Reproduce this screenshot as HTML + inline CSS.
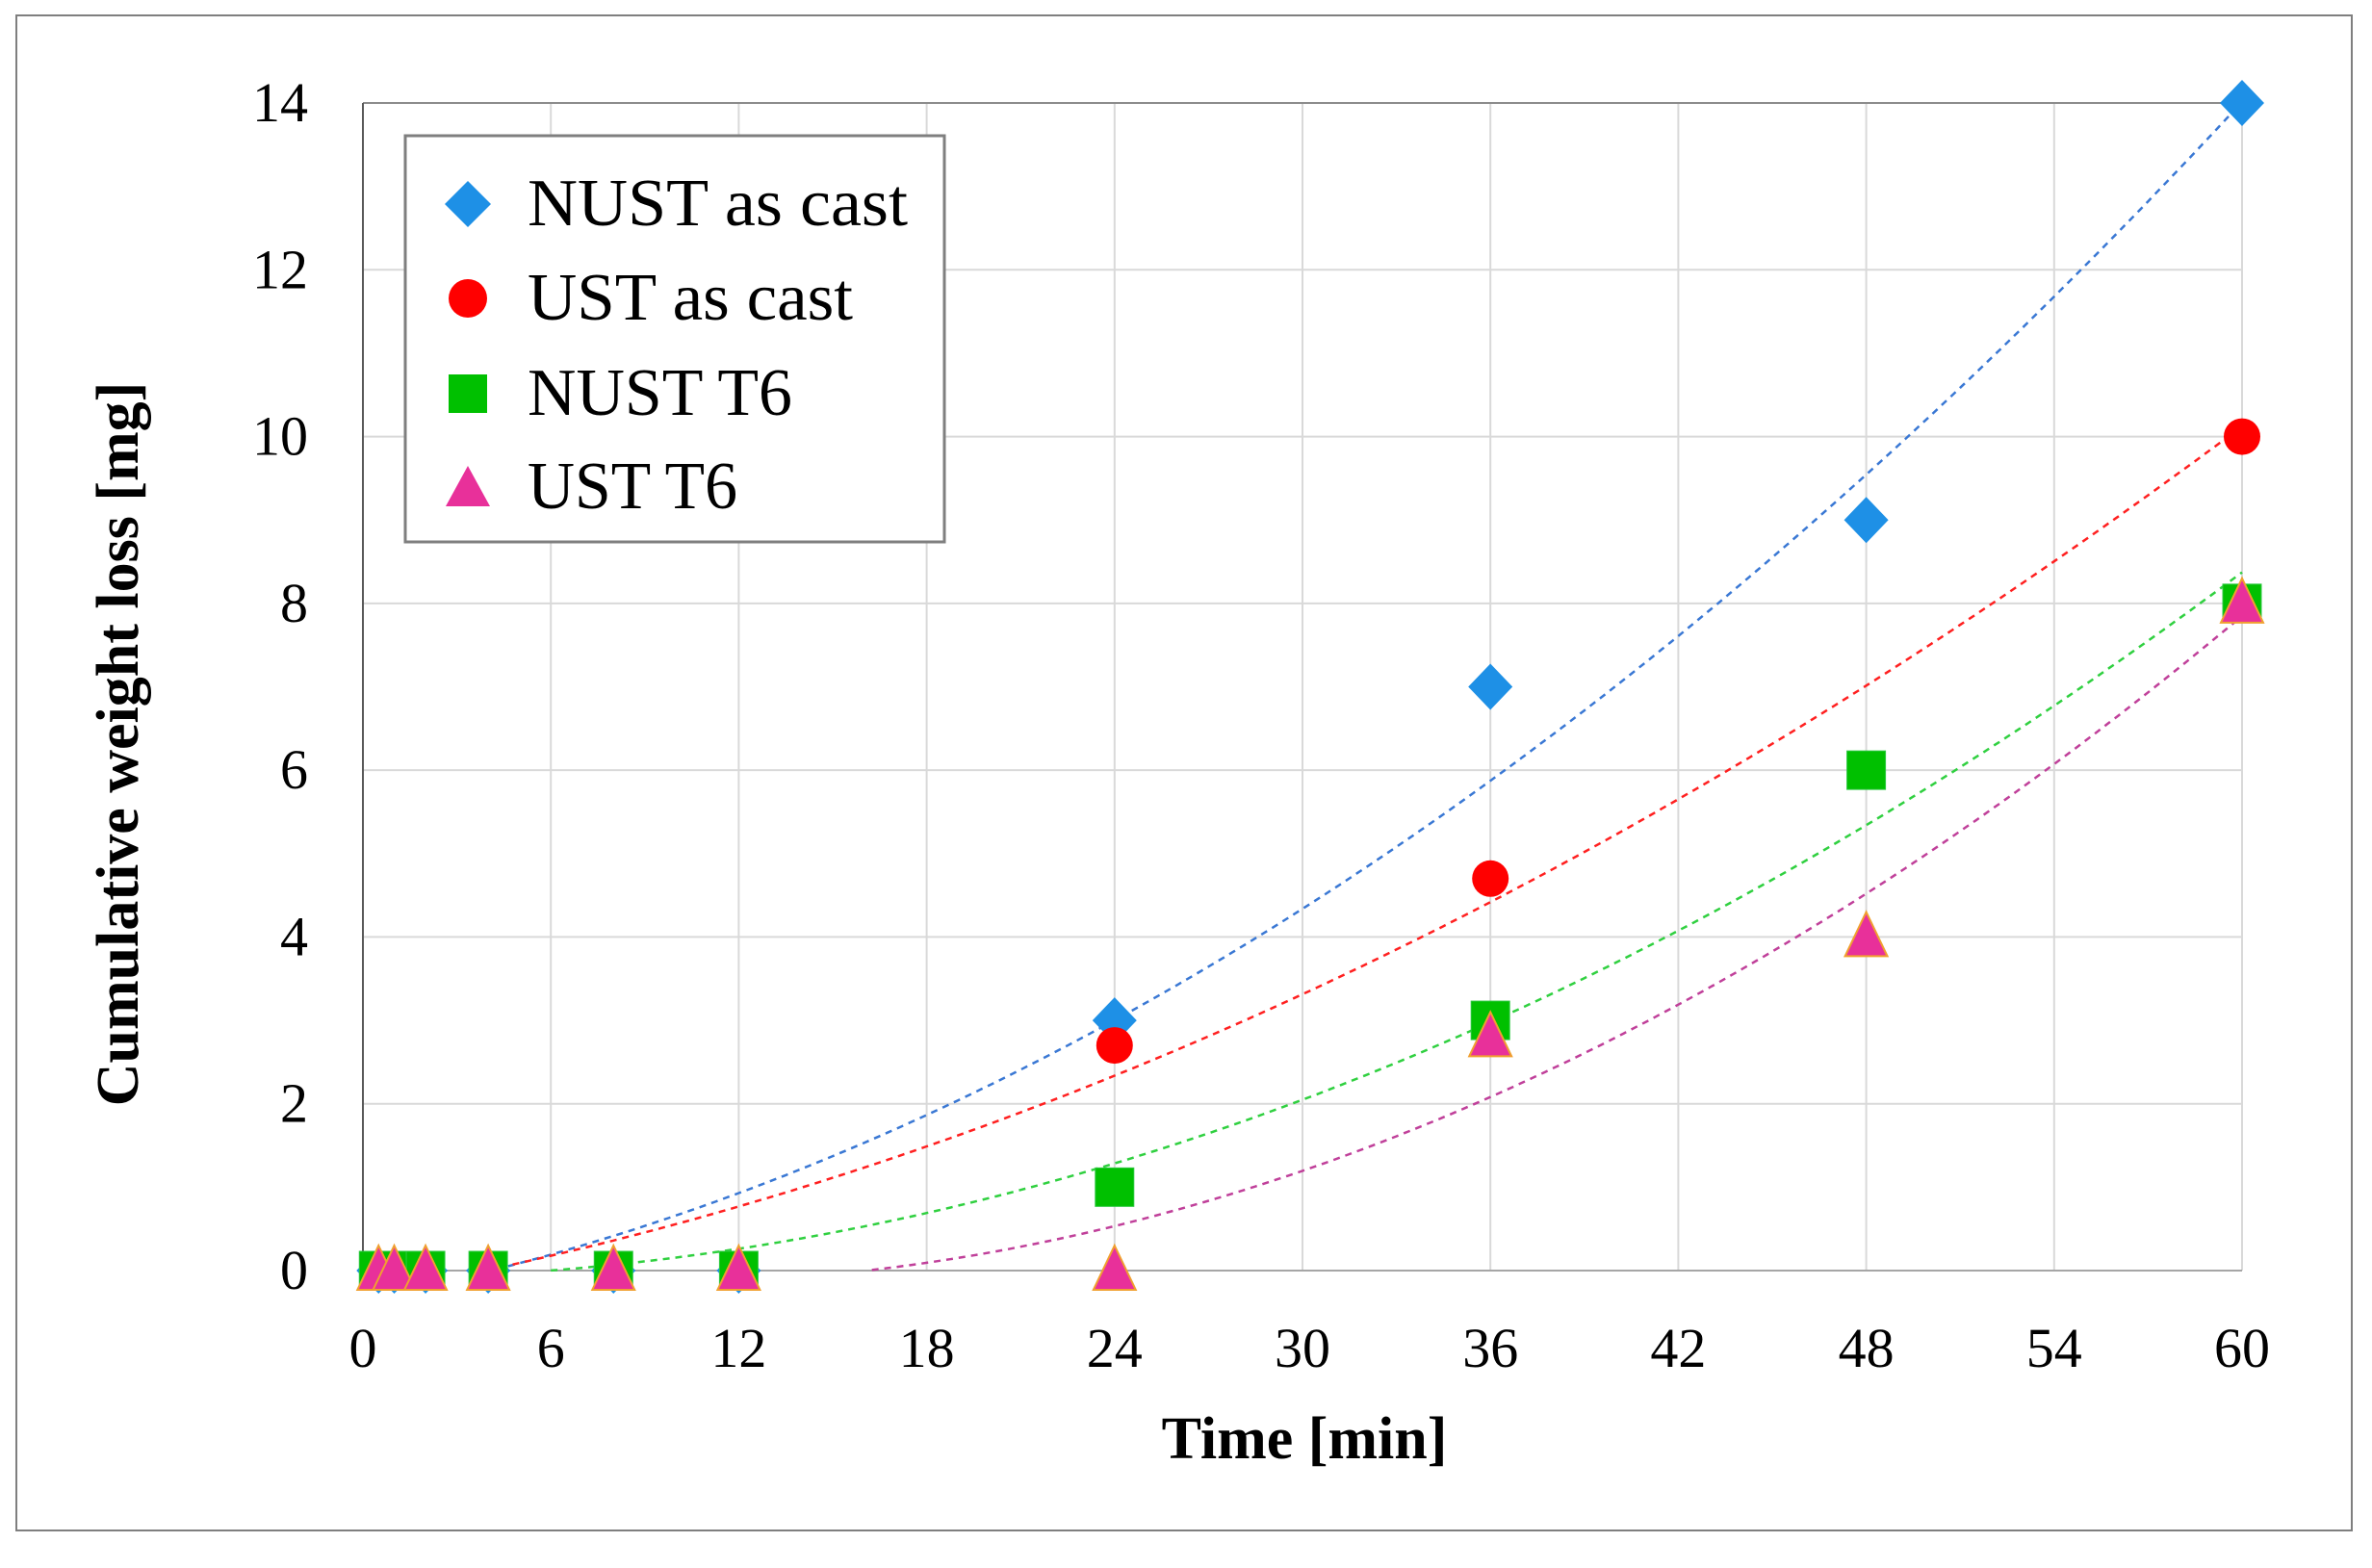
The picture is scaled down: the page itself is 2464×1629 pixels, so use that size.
<!DOCTYPE html>
<html><head><meta charset="utf-8"><style>
html,body{margin:0;padding:0;background:#fff;}
svg{display:block;}
text{font-family:"Liberation Serif",serif;}
</style></head><body>
<svg id="chart" width="2464" height="1629" viewBox="0 0 2464 1629" xmlns="http://www.w3.org/2000/svg">
<rect x="17" y="16" width="2426" height="1574" fill="#fff" stroke="#7f7f7f" stroke-width="2"/>
<g id="grid"></g>
<g id="axes"></g>
<g id="trends"></g>
<g id="marks"></g>
<text x="129" y="773" font-size="62" font-weight="bold" text-anchor="middle" dominant-baseline="middle" transform="rotate(-90 129 773)">Cumulative weight loss [mg]</text>
<text x="1355" y="1515" font-size="62" font-weight="bold" text-anchor="middle">Time [min]</text>
<g>
<rect x="421" y="141" width="560" height="422" fill="#fff" stroke="#7f7f7f" stroke-width="3"/>
<g><polygon points="486,188 510,212 486,236 462,212" fill="#1e90e6"/><text x="548" y="234" font-size="70" textLength="395" lengthAdjust="spacingAndGlyphs">NUST as cast</text></g>
<g><circle cx="486" cy="310" r="20" fill="#ff0000"/><text x="548" y="332" font-size="70" textLength="338" lengthAdjust="spacingAndGlyphs">UST as cast</text></g>
<g><rect x="466" y="389" width="40" height="40" fill="#00c000"/><text x="548" y="431" font-size="70" textLength="275" lengthAdjust="spacingAndGlyphs">NUST T6</text></g>
<g><polygon points="486,484 509,526 463,526" fill="#e8309a"/><text x="548" y="528" font-size="70" textLength="218" lengthAdjust="spacingAndGlyphs">UST T6</text></g>
</g>
</svg>
<script>
const times = [0.5, 1, 2, 4, 8, 12, 24, 36, 48, 60];
const nustAsCast = [0, 0, 0, 0, 0, 0, 3, 7, 9, 14];
const ustAsCast = [0, 0, 0, 0, 0, 0, 2.7, 4.7, null, 10];
const nustT6 = [0, 0, 0, 0, 0, 0, 1, 3, 6, 8];
const ustT6 = [0, 0, 0, 0, 0, 0, 0, 2.8, 4, 8];
const xTicks = [0, 6, 12, 18, 24, 30, 36, 42, 48, 54, 60];
const yTicks = [0, 2, 4, 6, 8, 10, 12, 14];

const NS = 'http://www.w3.org/2000/svg';
const X0 = 377, X1 = 2329, Y0 = 1320, Y1 = 107;
const xs = v => X0 + (v - 0) / 60 * (X1 - X0);
const ys = v => Y0 - (v - 0) / 14 * (Y0 - Y1);
function mk(tag, attrs, parent) {
  const e = document.createElementNS(NS, tag);
  for (const k in attrs) e.setAttribute(k, attrs[k]);
  parent.appendChild(e);
  return e;
}
const grid = document.getElementById('grid');
const axes = document.getElementById('axes');
xTicks.forEach(t => {
  const l = mk('line', {x1: xs(t), x2: xs(t), y1: Y1, y2: Y0, stroke: '#d9d9d9', 'stroke-width': 2}, grid);
  
  
  const tx = mk('text', {x: xs(t), y: Y0 + 100, 'font-size': 58, 'text-anchor': 'middle'}, axes);
  tx.textContent = t;
  
  
});
yTicks.forEach(t => {
  const l = mk('line', {x1: X0, x2: X1, y1: ys(t), y2: ys(t), stroke: t === 14 ? '#8c8c8c' : '#d9d9d9', 'stroke-width': 2}, grid);
  
  
  const tx = mk('text', {x: 320, y: ys(t) + 19, 'font-size': 58, 'text-anchor': 'end'}, axes);
  tx.textContent = t;
  
  
});
const ax = mk('line', {x1: X0, x2: X0, y1: Y1, y2: Y0, stroke: '#595959', 'stroke-width': 2}, axes);


const ax2 = mk('line', {x1: X0, x2: X1, y1: Y0, y2: Y0, stroke: '#a6a6a6', 'stroke-width': 2}, axes);



function quadFit(xv, yv) {
  let S = [0,0,0,0,0], T = [0,0,0];
  xv.forEach((x, i) => {
    const y = yv[i]; if (y === null) return;
    for (let p = 0; p < 5; p++) S[p] += Math.pow(x, p);
    for (let p = 0; p < 3; p++) T[p] += y * Math.pow(x, p);
  });
  const A = [[S[0],S[1],S[2],T[0]],[S[1],S[2],S[3],T[1]],[S[2],S[3],S[4],T[2]]];
  for (let i = 0; i < 3; i++) {
    for (let j = i + 1; j < 3; j++) {
      const f = A[j][i] / A[i][i];
      for (let k = i; k < 4; k++) A[j][k] -= f * A[i][k];
    }
  }
  const c = [0,0,0];
  for (let i = 2; i >= 0; i--) {
    let s = A[i][3];
    for (let k = i + 1; k < 3; k++) s -= A[i][k] * c[k];
    c[i] = s / A[i][i];
  }
  return x => c[0] + c[1] * x + c[2] * x * x;
}
const trends = document.getElementById('trends');
const series = [
  {name: 'nust-as-cast', vals: nustAsCast, color: '#3a78d4', fill: '#1e90e6', shape: 'diamond'},
  {name: 'ust-as-cast', vals: ustAsCast, color: '#ff2020', fill: '#ff0000', shape: 'circle'},
  {name: 'nust-t6', vals: nustT6, color: '#30d040', fill: '#00c000', shape: 'square'},
  {name: 'ust-t6', vals: ustT6, color: '#c0409a', fill: '#e8309a', shape: 'triangle'}
];
series.forEach(s => {
  const f = quadFit(times, s.vals);
  let d = '', pen = false;
  for (let x = 0.5; x <= 60.001; x += 0.25) {
    const y = f(x);
    if (y < 0) { pen = false; continue; }
    d += (pen ? 'L' : 'M') + xs(x).toFixed(1) + ',' + ys(y).toFixed(1);
    pen = true;
  }
  const p = mk('path', {d: d, fill: 'none', stroke: s.color, 'stroke-width': 2.5, 'stroke-dasharray': '7 6'}, trends);
  
  
});
const marks = document.getElementById('marks');
series.forEach(s => {
  times.forEach((t, i) => {
    const v = s.vals[i]; if (v === null) return;
    const cx = xs(t), cy = ys(v);
    let e;
    if (s.shape === 'diamond') e = mk('polygon', {points: `${cx},${cy-24} ${cx+23},${cy} ${cx},${cy+24} ${cx-23},${cy}`, fill: s.fill}, marks);
    else if (s.shape === 'circle') e = mk('circle', {cx: cx, cy: cy, r: 19, fill: s.fill}, marks);
    else if (s.shape === 'square') e = mk('rect', {x: cx-20, y: cy-20, width: 40, height: 40, fill: s.fill, stroke: '#2cc840', 'stroke-width': 1}, marks);
    else e = mk('polygon', {points: `${cx},${cy-26} ${cx+22},${cy+20} ${cx-22},${cy+20}`, fill: s.fill, stroke: '#f0a030', 'stroke-width': 2}, marks);
    
    
  });
});
</script>
</body></html>
